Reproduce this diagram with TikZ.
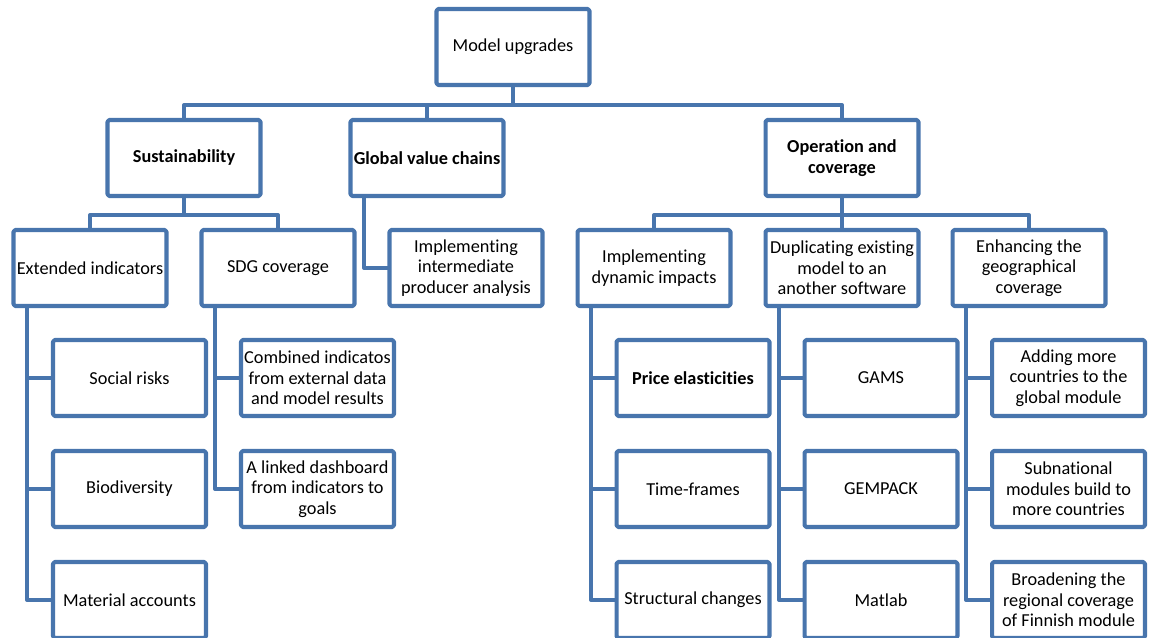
\documentclass[tikz,border=0pt]{standalone}
\usepackage{fontspec}
\setmainfont{Carlito}[Ligatures={NoCommon}]
\definecolor{boxblue}{RGB}{72,117,173}

\begin{document}
\begin{tikzpicture}[x=0.02cm,y=-0.02cm, line join=round, line cap=round,
	box/.style={draw=boxblue, line width=2.3pt, rounded corners=1pt, fill=white,
		minimum width=3.06cm, minimum height=1.52cm, inner sep=0pt, align=center,
		font=\fontsize{10.4}{11.7}\selectfont},
	link/.style={draw=boxblue, line width=2.3pt}]
	\useasboundingbox (0,0) rectangle (1150,638);
	
	% --- Gốc và nhánh chính ---
	\node[box] (top) at (513,47) {Model upgrades};
	\node[box] (sust) at (184,158) {\textbf{Sustainability}};
	\node[box] (gvc) at (427,158) {\textbf{Global value chains}};
	\node[box] (oper) at (842,158) {\textbf{Operation and}\\\textbf{coverage}};
	
	% --- Cấp hai ---
	\node[box] (ext) at (90,268) {Extended indicators};
	\node[box] (sdg) at (278,268) {SDG coverage};
	\node[box] (iipa) at (466,268) {Implementing\\intermediate\\producer analysis};
	\node[box] (dyn) at (654,268) {Implementing\\dynamic impacts};
	\node[box] (dup) at (842,268) {Duplicating existing\\model to an\\another software};
	\node[box] (enh) at (1029,268) {Enhancing the\\geographical\\coverage};
	
	% --- Lá ---
	\node[box] (social) at (129.5,378) {Social risks};
	\node[box] (bio) at (129.5,489) {Biodiversity};
	\node[box] (mat) at (129.5,600) {Material accounts};
	\node[box] (comb) at (317.5,378) {Combined indicatos\\from external data\\and model results};
	\node[box] (dash) at (317.5,489) {A linked dashboard\\from indicators to\\goals};
	\node[box] (price) at (693,378) {\textbf{Price elasticities}};
	\node[box] (time) at (693,489) {Time-frames};
	\node[box] (struct) at (693,600) {Structural changes};
	\node[box] (gams) at (881,378) {GAMS};
	\node[box] (gemp) at (881,489) {GEMPACK};
	\node[box] (matl) at (881,600) {Matlab};
	\node[box] (add) at (1068.5,378) {Adding more\\countries to the\\global module};
	\node[box] (subn) at (1068.5,489) {Subnational\\modules build to\\more countries};
	\node[box] (broad) at (1068.5,600) {Broadening the\\regional coverage\\of Finnish module};
	
	% --- Đường nối ---
	\foreach \c in {sust,gvc,oper}
		\draw[link] (top.south) -- ++(0,18) -| (\c.north);
	\foreach \p/\c in {sust/ext,sust/sdg,oper/dyn,oper/dup,oper/enh}
		\draw[link] (\p.south) -- ++(0,17) -| (\c.north);
	\foreach \p/\c in {gvc/iipa,ext/social,ext/bio,ext/mat,sdg/comb,sdg/dash,
		dyn/price,dyn/time,dyn/struct,dup/gams,dup/gemp,dup/matl,enh/add,enh/subn,enh/broad}
		\draw[link] ([xshift=0.31cm]\p.south west) |- (\c.west);
\end{tikzpicture}
\end{document}
